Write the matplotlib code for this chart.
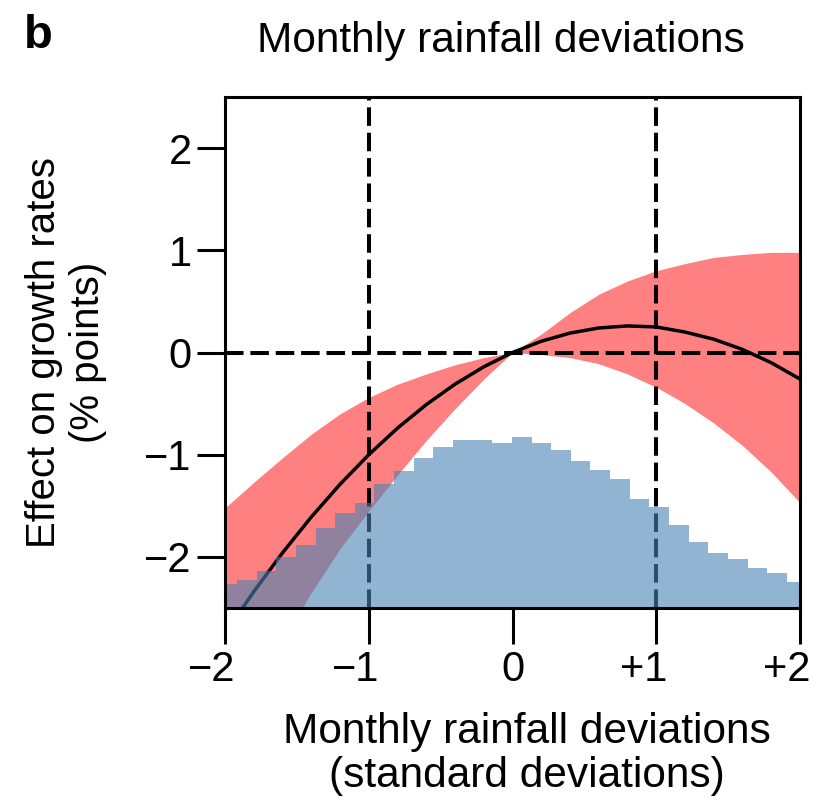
import numpy as np
import matplotlib
matplotlib.use("Agg")
import matplotlib.pyplot as plt
import matplotlib.transforms as mtransforms

plt.rcParams['font.family'] = ['Liberation Sans', 'DejaVu Sans']

# response curve (effect on growth, % points) vs rainfall deviation (s.d.)
x_curve = [-2.0, -1.8, -1.6, -1.4, -1.2, -1.0, -0.8, -0.6, -0.4, -0.2, 0.0,
           0.2, 0.4, 0.6, 0.8, 1.0, 1.2, 1.4, 1.6, 1.8, 2.0]
y_curve = [-2.75, -2.34, -1.96, -1.61, -1.29, -1.00, -0.74, -0.51, -0.31, -0.14, 0.0,
           0.11, 0.19, 0.24, 0.26, 0.25, 0.20, 0.13, 0.03, -0.10, -0.26]

# confidence band
ci_upper = [-1.52, -1.27, -1.03, -0.80, -0.60, -0.44, -0.31, -0.21, -0.12, -0.05, 0.0,
            0.18, 0.39, 0.57, 0.70, 0.80, 0.87, 0.93, 0.96, 0.98, 0.98]
ci_lower = [-3.80, -3.30, -2.82, -2.35, -1.92, -1.55, -1.20, -0.86, -0.55, -0.26, 0.0,
            -0.02, -0.05, -0.11, -0.21, -0.34, -0.50, -0.69, -0.91, -1.17, -1.47]

# histogram of observed rainfall deviations (bar tops on the y scale)
hist_top = [-2.27, -2.23, -2.14, -2.00, -1.88, -1.72, -1.57, -1.47, -1.29, -1.16,
            -1.03, -0.92, -0.86, -0.86, -0.89, -0.83, -0.89, -0.95, -1.06, -1.15,
            -1.24, -1.43, -1.51, -1.69, -1.85, -1.96, -2.02, -2.11, -2.16, -2.25]
bin_start = -2.053
bin_width = 0.1366

xticks = [-2, -1, 0, 1, 2]
xticklabels = ['\u22122', '\u22121', '0', '+1', '+2']
yticks = [-2, -1, 0, 1, 2]
yticklabels = ['\u22122', '\u22121', '0', '1', '2']

fig = plt.figure(figsize=(8.25, 8), dpi=100)
ax = fig.add_axes([225/825, 1 - 608/800, 575/825, 511/800])

ybot = -2.5
ax.fill_between(x_curve, ci_lower, ci_upper, color='#FF8080', lw=0, zorder=1)
ax.plot(x_curve, y_curve, color='black', lw=2.5, zorder=2)

dash = (4.6, 1.7)
ax.axhline(0, color='black', lw=2.9, dashes=dash, zorder=2)
for xv in (-1, 1):
    ax.axvline(xv, color='black', lw=2.9, dashes=dash, zorder=2)

lefts = bin_start + bin_width * np.arange(len(hist_top))
heights = np.array(hist_top) - ybot
ax.bar(lefts, heights, width=bin_width, bottom=ybot, align='edge',
       color='steelblue', alpha=0.6, lw=0, zorder=2.3)

ax.set_xlim(-2, 2)
ax.set_ylim(-2.5, 2.5)
ax.set_xticks(xticks)
ax.set_xticklabels(xticklabels)
ax.set_yticks(yticks)
ax.set_yticklabels(yticklabels)
for s in ax.spines.values():
    s.set_linewidth(2.2)
ax.tick_params(axis='both', labelsize=30, width=2.2, direction='out')
ax.tick_params(axis='x', length=26, pad=4)
ax.tick_params(axis='y', length=20, pad=4)

# signed labels sit a little left of their ticks
shift = mtransforms.ScaledTranslation(-13/100, 0, fig.dpi_scale_trans)
for lab in ax.get_xticklabels():
    if lab.get_text()[0] in '\u2212+':
        lab.set_transform(lab.get_transform() + shift)

ax.set_xlabel('Monthly rainfall deviations\n(standard deviations)', fontsize=30.5,
              linespacing=1.15)
ax.xaxis.set_label_coords(0.525, -0.203)
ax.set_ylabel('Effect on growth rates\n(% points)', fontsize=29, linespacing=1.2)
ax.yaxis.set_label_coords(-0.205, 0.5)

fig.text(501/825, 1 - 52/800, 'Monthly rainfall deviations', fontsize=30.5,
         ha='center', va='baseline')
fig.text(24/825, 1 - 48/800, 'b', fontsize=34, fontweight='bold',
         ha='left', va='baseline')

fig.savefig('out.png', dpi=100)
